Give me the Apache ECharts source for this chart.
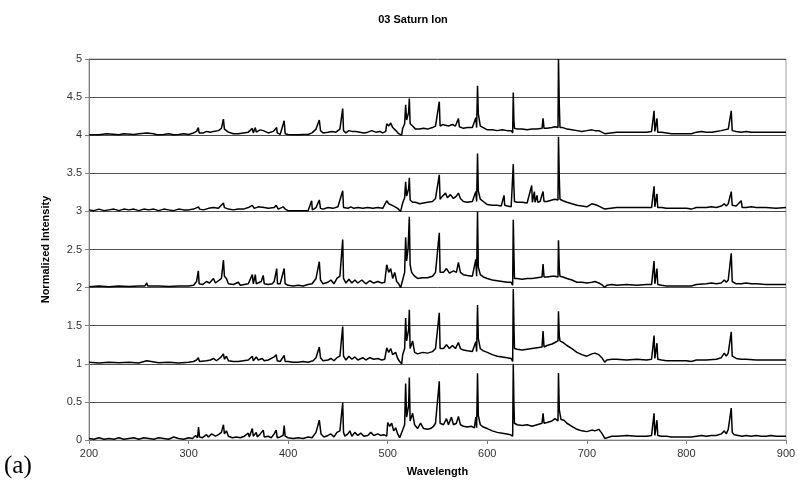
<!DOCTYPE html>
<html>
<head>
<meta charset="utf-8">
<title>03 Saturn Ion</title>
<script src="https://cdn.jsdelivr.net/npm/echarts@6/dist/echarts.min.js"></script>
<style>
  html, body { margin: 0; padding: 0; background: #fff; }
  #chart { width: 799px; height: 493px; }
</style>
</head>
<body>
<div id="chart"></div>
<script>
// each trace: [wavelength, intensity above its own baseline]
const trace0 = [
  [200,0.02],[205,0.01],[210,0.03],[215,0.01],[220,0.02],[225,0.01],[230,0.03],[235,0.01],[240,0.02],[245,0.03],
  [250,0.01],[255,0.03],[260,0.02],[265,0.01],[270,0.03],[275,0.02],[280,0.01],[285,0.04],[290,0.02],[295,0.01],
  [300,0.03],[304,0.02],[307,0.06],[309,0.03],[310,0.17],[311,0.04],[314,0.03],[318,0.07],[320,0.04],[323,0.08],
  [325,0.1],[327,0.05],[330,0.07],[333,0.1],[335,0.2],[336,0.08],[338,0.12],[340,0.05],[344,0.03],[348,0.04],
  [352,0.03],[356,0.05],[360,0.09],[361,0.04],[364,0.15],[365,0.05],[368,0.1],[369,0.04],[372,0.08],[375,0.13],
  [376,0.04],[380,0.05],[383,0.03],[386,0.08],[388,0.13],[389,0.03],[392,0.04],[395,0.06],[396,0.19],[397,0.05],
  [400,0.03],[405,0.02],[410,0.03],[415,0.02],[420,0.04],[424,0.03],[428,0.1],[431.3,0.26],[433,0.08],[436,0.04],
  [440,0.06],[443,0.08],[446,0.04],[449,0.1],[452,0.12],[454.8,0.49],[455.6,0.1],[457,0.05],[460,0.08],[462,0.12],
  [464,0.05],[467,0.1],[470,0.06],[473,0.09],[476,0.05],[480,0.06],[483,0.1],[486,0.06],[490,0.08],[493,0.06],
  [496,0.07],[499,0.05],[500,0.23],[502,0.18],[504,0.22],[506,0.12],[508,0.16],[510,0.08],[512,0.03],[514,0.01],
  [515,0.13],[517,0.2],[518,0.74],[519,0.3],[521,0.45],[521.7,0.82],[522.5,0.25],[525,0.35],[527,0.2],[530,0.15],
  [533,0.22],[536,0.15],[540,0.14],[543,0.15],[546,0.18],[548,0.22],[550,0.2],[551.8,0.77],[552.6,0.22],[556,0.2],
  [559,0.28],[561,0.2],[564,0.3],[566,0.2],[569,0.22],[571,0.31],[573,0.2],[576,0.18],[580,0.17],[584,0.18],
  [587,0.16],[588.5,0.3],[589.3,0.16],[590.2,0.875],[591,0.32],[593,0.2],[596,0.17],[600,0.15],[605,0.12],[610,0.1],
  [615,0.09],[620,0.08],[623,0.07],[625.5,0.05],[626.1,1.0],[626.7,0.5],[627.3,0.22],[630,0.2],[635,0.19],[640,0.2],
  [645,0.18],[650,0.2],[655,0.22],[656,0.35],[657,0.22],[660,0.23],[665,0.25],[668,0.28],[671,0.25],[671.5,0.88],
  [672.3,0.4],[674,0.27],[677,0.26],[680,0.22],[685,0.18],[690,0.14],[695,0.12],[700,0.11],[705,0.13],[708,0.12],
  [712,0.14],[715,0.09],[718,0.02],[720,0.04],[725,0.05],[730,0.05],[740,0.06],[750,0.05],[760,0.05],[765,0.06],
  [767.5,0.35],[768.3,0.06],[770.4,0.26],[771.2,0.06],[775,0.05],[780,0.05],[785,0.04],[790,0.04],[795,0.04],[800,0.04],
  [805,0.04],[806,0.05],[810,0.05],[815,0.06],[820,0.05],[825,0.06],[830,0.06],[835,0.08],[838,0.12],[840,0.08],
  [842,0.14],[845,0.42],[846,0.1],[848,0.07],[852,0.06],[856,0.05],[860,0.06],[865,0.05],[870,0.06],[875,0.05],
  [880,0.05],[885,0.06],[890,0.05],[895,0.05],[900,0.05]
]
const trace1 = [
  [200,0.02],[210,0.01],[220,0.02],[230,0.015],[240,0.02],[250,0.01],[258,0.04],[260,0.02],[270,0.015],[280,0.02],
  [290,0.01],[300,0.02],[305,0.03],[308,0.05],[309.8,0.08],[311,0.03],[318,0.04],[322,0.05],[325,0.07],[328,0.04],
  [332,0.08],[335,0.13],[336,0.06],[338,0.1],[340,0.04],[345,0.03],[350,0.03],[355,0.04],[360,0.05],[364,0.1],
  [365,0.04],[368,0.09],[370,0.05],[374,0.07],[376,0.04],[380,0.05],[386,0.09],[388,0.12],[389,0.04],[392,0.03],
  [396,0.11],[397,0.03],[400,0.03],[405,0.02],[410,0.02],[415,0.03],[420,0.02],[425,0.04],[428,0.08],[431.3,0.22],
  [432.5,0.08],[435,0.04],[440,0.05],[443,0.07],[446,0.04],[449,0.08],[452,0.1],[454.8,0.49],[455.6,0.1],[458,0.05],
  [461,0.1],[464,0.06],[467,0.09],[470,0.05],[475,0.08],[478,0.05],[482,0.08],[486,0.06],[490,0.07],[494,0.05],
  [497,0.06],[499,0.21],[501,0.15],[503,0.2],[505,0.12],[508,0.15],[510,0.07],[512,0.03],[514,0.0],[515,0.115],
  [517,0.2],[518,0.6],[519,0.3],[521,0.45],[521.7,0.71],[522.5,0.2],[525,0.3],[527,0.15],[530,0.13],[535,0.15],
  [540,0.14],[545,0.16],[548,0.2],[550,0.18],[551.8,0.67],[552.6,0.2],[556,0.2],[559,0.25],[562,0.2],[565,0.24],
  [568,0.2],[571,0.28],[573,0.2],[576,0.18],[580,0.17],[585,0.16],[588.5,0.29],[589.3,0.16],[590.2,0.77],[591,0.33],
  [593,0.2],[596,0.17],[600,0.15],[605,0.12],[610,0.1],[615,0.09],[620,0.08],[624,0.07],[625.5,0.03],[626.1,0.98],
  [626.7,0.54],[627.3,0.2],[630,0.19],[635,0.18],[640,0.19],[645,0.2],[650,0.21],[655,0.22],[656,0.43],[657,0.22],
  [660,0.24],[665,0.26],[668,0.28],[671,0.3],[671.5,0.69],[672.3,0.37],[673,0.3],[676,0.28],[680,0.24],[685,0.2],
  [690,0.15],[695,0.12],[700,0.1],[705,0.13],[708,0.14],[712,0.12],[715,0.08],[718,0.02],[720,0.05],[725,0.06],
  [730,0.06],[740,0.05],[750,0.06],[760,0.05],[765,0.06],[767.5,0.37],[768.3,0.07],[770.4,0.27],[771.2,0.06],[775,0.05],
  [780,0.04],[790,0.04],[800,0.04],[805,0.03],[806,0.05],[810,0.05],[820,0.05],[830,0.06],[835,0.08],[838,0.14],
  [840,0.1],[842,0.14],[845,0.42],[846,0.1],[850,0.07],[855,0.06],[860,0.06],[870,0.05],[880,0.05],[890,0.05],[900,0.05]
]
const trace2 = [
  [200,0.01],[210,0.02],[220,0.01],[230,0.02],[240,0.015],[250,0.02],[256,0.02],[258,0.06],[259,0.02],[270,0.02],
  [280,0.015],[290,0.02],[300,0.02],[305,0.03],[308,0.08],[309.8,0.22],[310.6,0.05],[314,0.04],[318,0.08],[321,0.06],
  [325,0.12],[327,0.06],[330,0.09],[333,0.12],[335,0.36],[336,0.15],[338,0.12],[340,0.05],[345,0.04],[350,0.07],
  [352,0.03],[356,0.04],[360,0.05],[364,0.17],[365,0.05],[367,0.17],[368,0.05],[370,0.06],[373,0.08],[375,0.16],
  [376,0.05],[380,0.04],[384,0.05],[386,0.08],[388.5,0.25],[389.3,0.05],[392,0.05],[396,0.25],[397,0.05],[400,0.03],
  [405,0.02],[410,0.03],[415,0.02],[420,0.04],[424,0.05],[428,0.12],[431.3,0.34],[432.5,0.1],[435,0.05],[440,0.07],
  [443,0.1],[446,0.05],[449,0.12],[452,0.15],[454.8,0.63],[455.6,0.12],[458,0.06],[461,0.11],[464,0.06],[467,0.1],
  [470,0.06],[474,0.1],[478,0.05],[482,0.09],[486,0.06],[490,0.08],[494,0.06],[497,0.07],[499,0.3],[501,0.2],
  [503,0.25],[505,0.12],[507,0.2],[509,0.08],[511,0.05],[513,0.0],[515,0.1],[517,0.2],[518,0.66],[519,0.35],
  [520.5,0.52],[521.7,0.93],[522.5,0.3],[524,0.2],[527,0.15],[530,0.12],[535,0.13],[540,0.13],[545,0.15],[548,0.2],
  [550,0.18],[551.8,0.72],[552.6,0.2],[556,0.2],[559,0.25],[562,0.19],[566,0.22],[569,0.2],[571,0.33],[573,0.2],
  [576,0.17],[580,0.16],[585,0.15],[588.5,0.37],[589.3,0.15],[590.2,1.0],[591,0.27],[593,0.17],[596,0.14],[600,0.12],
  [605,0.1],[610,0.09],[615,0.08],[620,0.07],[624,0.07],[625.5,0.03],[626.1,0.89],[626.7,0.46],[627.3,0.12],[630,0.12],
  [635,0.11],[640,0.12],[645,0.12],[650,0.13],[655,0.14],[656,0.31],[657,0.14],[660,0.14],[665,0.15],[668,0.15],
  [671,0.14],[671.5,0.62],[672.3,0.26],[673,0.15],[676,0.14],[680,0.12],[685,0.1],[690,0.07],[695,0.07],[700,0.06],
  [705,0.07],[708,0.08],[712,0.06],[715,0.04],[718,0.0],[720,0.03],[725,0.04],[730,0.03],[740,0.04],[750,0.03],
  [760,0.04],[765,0.04],[767.5,0.35],[768.3,0.05],[770.4,0.25],[771.2,0.04],[775,0.03],[780,0.02],[790,0.02],[800,0.02],
  [805,0.02],[806,0.04],[810,0.04],[820,0.05],[825,0.06],[830,0.05],[835,0.06],[838,0.1],[840,0.07],[842,0.1],
  [845,0.45],[846,0.08],[850,0.05],[855,0.05],[860,0.06],[865,0.05],[870,0.05],[880,0.04],[890,0.04],[900,0.04]
]
const trace3 = [
  [200,0.02],[205,0.01],[210,0.03],[215,0.01],[220,0.02],[225,0.03],[230,0.01],[235,0.03],[240,0.02],[245,0.03],
  [250,0.01],[255,0.03],[260,0.02],[265,0.03],[270,0.01],[275,0.03],[280,0.02],[285,0.01],[290,0.03],[295,0.02],
  [300,0.02],[305,0.03],[310,0.06],[311,0.03],[315,0.02],[320,0.04],[325,0.05],[330,0.04],[335,0.11],[336,0.05],
  [340,0.03],[345,0.02],[350,0.03],[355,0.03],[360,0.05],[364,0.08],[366,0.04],[370,0.06],[372,0.04],[376,0.05],
  [380,0.04],[386,0.05],[388,0.08],[390,0.03],[395,0.06],[396,0.08],[397,0.03],[400,0.01],[405,0.01],[410,0.01],
  [415,0.01],[420,0.01],[423.6,0.14],[424.3,0.02],[428,0.05],[431.3,0.15],[432.5,0.04],[435,0.03],[440,0.05],[445,0.04],
  [450,0.06],[454.8,0.27],[455.6,0.05],[460,0.04],[463,0.06],[466,0.04],[470,0.05],[475,0.04],[480,0.05],[485,0.04],
  [490,0.05],[495,0.04],[499,0.14],[501,0.1],[503,0.12],[506,0.07],[510,0.04],[513,0.0],[515,0.11],[517,0.18],
  [518,0.39],[519,0.2],[521,0.3],[521.7,0.44],[522.5,0.15],[525,0.12],[528,0.12],[532,0.1],[536,0.11],[540,0.12],
  [545,0.13],[548,0.17],[550,0.16],[551.8,0.48],[552.6,0.16],[555,0.2],[558,0.24],[560,0.18],[563,0.22],[566,0.17],
  [569,0.2],[571,0.24],[573,0.17],[576,0.13],[580,0.12],[585,0.13],[588.5,0.26],[589.3,0.13],[590.2,0.76],[591,0.27],
  [593,0.16],[596,0.13],[600,0.09],[605,0.08],[610,0.08],[614,0.07],[616.8,0.21],[617.5,0.08],[620,0.07],[624,0.06],
  [625.5,0.04],[626.1,0.62],[626.7,0.33],[627.3,0.13],[630,0.12],[635,0.12],[640,0.11],[644.6,0.34],[645.3,0.12],[647.3,0.26],
  [648,0.12],[650,0.21],[650.7,0.12],[653,0.13],[656,0.26],[657,0.13],[660,0.13],[665,0.15],[668,0.16],[671,0.15],
  [671.5,0.98],[672.3,0.44],[673,0.16],[676,0.14],[680,0.12],[685,0.1],[690,0.08],[695,0.07],[700,0.06],[705,0.1],
  [708,0.09],[712,0.07],[715,0.05],[718,0.03],[720,0.05],[730,0.05],[740,0.05],[750,0.05],[760,0.05],[765,0.05],
  [767.5,0.33],[768.3,0.06],[770.4,0.23],[771.2,0.05],[775,0.05],[780,0.04],[790,0.04],[800,0.04],[805,0.03],[806,0.05],
  [810,0.05],[820,0.05],[825,0.06],[830,0.05],[835,0.07],[838,0.1],[840,0.07],[842,0.1],[845,0.26],[846,0.08],
  [850,0.07],[855,0.14],[856,0.05],[860,0.05],[865,0.06],[870,0.05],[880,0.05],[890,0.04],[900,0.05]
]
const trace4 = [
  [200,0.005],[210,0.005],[218,0.02],[219,0.005],[230,0.005],[235,0.02],[236,0.005],[245,0.01],[250,0.02],[252,0.005],
  [258,0.03],[260,0.005],[265,0.02],[268,0.005],[275,0.01],[280,0.02],[285,0.005],[290,0.01],[295,0.02],[300,0.01],
  [305,0.03],[308,0.05],[309.8,0.1],[310.6,0.03],[315,0.03],[318,0.05],[322,0.04],[325,0.05],[330,0.06],[333,0.09],
  [335,0.21],[336,0.08],[338,0.1],[340,0.04],[345,0.02],[350,0.02],[355,0.03],[360,0.04],[364,0.09],[365,0.03],
  [367,0.1],[368,0.04],[372,0.07],[375,0.06],[380,0.03],[385,0.05],[388.5,0.1],[389,0.03],[392,0.01],[396,0.19],
  [397,0.02],[400,0.01],[405,0.005],[410,0.005],[415,0.01],[420,0.01],[424,0.03],[428,0.08],[431.3,0.2],[432.5,0.06],
  [435,0.03],[440,0.04],[444,0.05],[448,0.04],[452,0.08],[454.8,0.35],[455.6,0.06],[458,0.03],[461,0.06],[464,0.05],
  [468,0.05],[472,0.04],[476,0.03],[480,0.04],[484,0.06],[488,0.04],[492,0.05],[495,0.03],[498,0.05],[499,0.15],
  [501,0.12],[503,0.16],[505,0.1],[507,0.12],[509,0.05],[511,0.02],[514,0.0],[515,0.09],[517,0.15],[518,0.4],
  [519,0.2],[521,0.3],[521.7,0.48],[522.5,0.15],[525,0.12],[528,0.08],[532,0.08],[536,0.09],[540,0.08],[545,0.1],
  [548,0.12],[550,0.1],[551.8,0.44],[552.6,0.12],[555,0.14],[558,0.13],[561,0.12],[565,0.14],[568,0.12],[571,0.22],
  [572,0.11],[576,0.09],[580,0.1],[585,0.1],[588.5,0.23],[589.3,0.1],[590.2,0.65],[591,0.28],[593,0.12],[596,0.1],
  [600,0.07],[605,0.07],[610,0.06],[615,0.07],[620,0.06],[624,0.06],[625.5,0.03],[626.1,0.56],[626.7,0.2],[627.3,0.09],
  [630,0.08],[635,0.08],[640,0.07],[645,0.08],[650,0.08],[655,0.09],[656,0.22],[657,0.09],[660,0.09],[665,0.1],
  [668,0.11],[671,0.1],[671.5,1.0],[672.3,0.41],[673,0.1],[676,0.1],[680,0.08],[685,0.07],[690,0.06],[695,0.05],
  [700,0.06],[705,0.07],[708,0.06],[712,0.06],[715,0.04],[718,0.02],[720,0.04],[730,0.04],[740,0.04],[750,0.04],
  [760,0.04],[765,0.05],[767.5,0.32],[768.3,0.05],[770.4,0.22],[771.2,0.04],[775,0.04],[780,0.03],[785,0.02],[790,0.02],
  [795,0.02],[800,0.02],[805,0.02],[806,0.04],[810,0.04],[815,0.05],[820,0.04],[825,0.04],[830,0.05],[835,0.06],
  [838,0.07],[840,0.06],[842,0.08],[845,0.32],[846,0.06],[850,0.05],[855,0.04],[860,0.05],[865,0.04],[870,0.04],
  [880,0.04],[890,0.04],[900,0.04]
]
const traces = [trace0, trace1, trace2, trace3, trace4]
const offsets = [0, 1, 2, 3, 4]

const chart = echarts.init(document.getElementById('chart'), null, { renderer: 'canvas' })

const series = traces.map((t, i) => ({
  type: 'line',
  data: t.map(([x, v]) => [x, v + offsets[i]]),
  showSymbol: false,
  symbol: 'none',
  lineStyle: { color: '#000', width: 1.5 },
  z: 3,
}))

const option = {
  animation: false,
  backgroundColor: '#fff',
  title: {
    text: '03 Saturn Ion',
    left: 408,
    top: 9,
    textAlign: 'center',
    textStyle: { fontFamily: 'Liberation Sans', fontSize: 11, fontWeight: 'bold', color: '#000' },
  },
  grid: {
    left: 89,
    right: 13,
    top: 59,
    bottom: 53,
    show: true,
    borderColor: '#a0a0a0',
    borderWidth: 1,
  },
  xAxis: {
    type: 'value',
    min: 200,
    max: 900,
    interval: 100,
    name: 'Wavelength',
    nameLocation: 'middle',
    nameGap: 26,
    nameTextStyle: { fontFamily: 'Liberation Sans', fontSize: 11, fontWeight: 'bold', color: '#000' },
    axisLine: { lineStyle: { color: '#808080' } },
    axisTick: { show: true, length: 4, lineStyle: { color: '#808080' } },
    axisLabel: { fontFamily: 'Liberation Sans', fontSize: 11, color: '#333', margin: 8 },
    splitLine: { show: false },
  },
  yAxis: {
    type: 'value',
    min: 0,
    max: 5,
    interval: 0.5,
    name: 'Normalized Intensity',
    nameLocation: 'middle',
    nameGap: 38,
    nameTextStyle: { fontFamily: 'Liberation Sans', fontSize: 11, fontWeight: 'bold', color: '#000' },
    axisLine: { show: true, lineStyle: { color: '#808080' } },
    axisTick: { show: true, inside: false, length: 4, lineStyle: { color: '#808080' } },
    axisLabel: { fontFamily: 'Liberation Sans', fontSize: 11, color: '#333', margin: 7 },
    splitLine: { show: true, lineStyle: { color: '#505050', width: 1 } },
  },
  graphic: [
    {
      type: 'text',
      left: 4,
      top: 454,
      style: { text: '(a)', fontFamily: 'Liberation Serif', fontSize: 25, fill: '#000' },
    },
  ],
  series,
}

chart.setOption(option)
</script>
</body>
</html>
